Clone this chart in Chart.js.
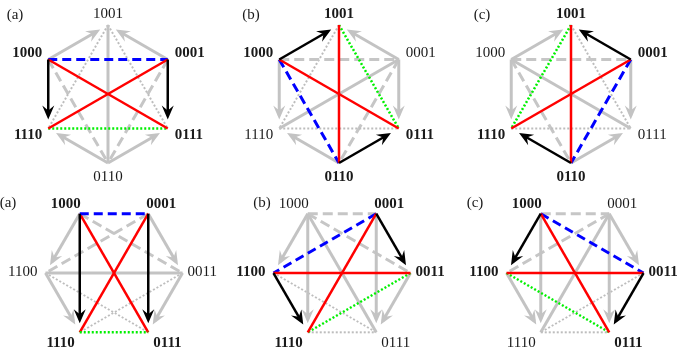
<!DOCTYPE html>
<html>
<head>
<meta charset="utf-8">
<script src="https://cdn.jsdelivr.net/npm/chart.js@4.4.1/dist/chart.umd.min.js"></script>
<style>
  html, body { margin: 0; padding: 0; background: #fff; }
  canvas { display: block; }
</style>
</head>
<body>
<canvas id="graphs" width="677" height="348"></canvas>
<script>
// vertex names, clockwise (top row starts at the top vertex, bottom row at the upper-right one)
const topNodes = ['1001', '0001', '0111', '0110', '1110', '1000'];
const bottomNodes = ['0001', '0011', '0111', '1110', '1100', '1000'];
const panelTags = ['(a)', '(b)', '(c)'];

// edges: [from, to, kind]
const topA = [
  ['1000', '1001', 'arrow'], ['0001', '1001', 'arrow'], ['1000', '1110', 'black'], ['0001', '0111', 'black'],
  ['0110', '1110', 'arrow'], ['0110', '0111', 'arrow'], ['1001', '0110', 'solid'], ['1000', '0111', 'red'],
  ['0001', '1110', 'red'], ['1000', '0001', 'blue'], ['1110', '0111', 'green'], ['1001', '1110', 'dot'],
  ['1001', '0111', 'dot'], ['1000', '0110', 'dash'], ['0001', '0110', 'dash']
];
const topB = [
  ['1000', '1001', 'black'], ['0001', '1001', 'arrow'], ['1000', '1110', 'arrow'], ['0001', '0111', 'arrow'],
  ['0110', '1110', 'arrow'], ['0110', '0111', 'black'], ['1001', '0110', 'red'], ['1000', '0111', 'red'],
  ['0001', '1110', 'solid'], ['1000', '0001', 'dash'], ['1110', '0111', 'dot'], ['1001', '1110', 'dot'],
  ['1001', '0111', 'green'], ['1000', '0110', 'blue'], ['0001', '0110', 'dash']
];
const topC = [
  ['1000', '1001', 'arrow'], ['0001', '1001', 'black'], ['1000', '1110', 'arrow'], ['0001', '0111', 'arrow'],
  ['0110', '1110', 'black'], ['0110', '0111', 'arrow'], ['1001', '0110', 'red'], ['0001', '1110', 'red'],
  ['1000', '0111', 'solid'], ['1000', '0001', 'dash'], ['1110', '0111', 'dot'], ['1001', '1110', 'green'],
  ['1001', '0111', 'dot'], ['1000', '0110', 'dash'], ['0001', '0110', 'blue']
];
const bottomA = [
  ['1000', '0001', 'blue'], ['1000', '1100', 'arrow'], ['0001', '0011', 'arrow'], ['1100', '1110', 'arrow'],
  ['0011', '0111', 'arrow'], ['1110', '0111', 'green'], ['1000', '1110', 'black'], ['0001', '0111', 'black'],
  ['1000', '0111', 'red'], ['0001', '1110', 'red'], ['1100', '0011', 'solid'], ['1000', '0011', 'dash'],
  ['0001', '1100', 'dash'], ['1100', '0111', 'dot'], ['0011', '1110', 'dot']
];
const bottomB = [
  ['1000', '0001', 'dash'], ['1000', '1100', 'arrow'], ['0001', '0011', 'black'], ['1100', '1110', 'black'],
  ['0011', '0111', 'arrow'], ['1110', '0111', 'dot'], ['1000', '1110', 'arrow'], ['0001', '0111', 'arrow'],
  ['1000', '0111', 'solid'], ['0001', '1110', 'red'], ['1100', '0011', 'red'], ['1000', '0011', 'dash'],
  ['0001', '1100', 'blue'], ['1100', '0111', 'dot'], ['0011', '1110', 'green']
];
const bottomC = [
  ['1000', '0001', 'dash'], ['1000', '1100', 'black'], ['0001', '0011', 'arrow'], ['1100', '1110', 'arrow'],
  ['0011', '0111', 'black'], ['1110', '0111', 'dot'], ['1000', '1110', 'arrow'], ['0001', '0111', 'arrow'],
  ['1000', '0111', 'red'], ['0001', '1110', 'solid'], ['1100', '0011', 'red'], ['1000', '0011', 'blue'],
  ['0001', '1100', 'dash'], ['1100', '0111', 'green'], ['0011', '1110', 'dot']
];

// vertices printed in bold, per panel
const topBold = [['1000', '0001', '1110', '0111'], ['1001', '1000', '0111', '0110'], ['1001', '0001', '1110', '0110']];
const bottomBold = [['1000', '0001', '1110', '0111'], ['0001', '1100', '0011', '1110'], ['1000', '1100', '0011', '0111']];

// ---- layout (positions in canvas-sized units) ----
const rows = [
  {
    nodes: topNodes, edges: [topA, topB, topC], bold: topBold,
    startAngle: -90, r: 69, cy: 94, cx: [108, 339, 571],
    labelOff: [[0, -11, 'center'], [7, -6, 'left'], [7, 7, 'left'], [0, 14, 'center'], [-6, 7, 'right'], [-6, -6, 'right']],
    tagPos: [[15, 15], [251, 15], [482, 15]]
  },
  {
    nodes: bottomNodes, edges: [bottomA, bottomB, bottomC], bold: bottomBold,
    startAngle: -60, r: 68.5, cy: 273, cx: [114, 342, 575],
    labelOff: [[13, -10, 'center'], [5, -1, 'left'], [5, 11, 'left'], [-5, 11, 'right'], [-8, -1, 'right'], [-14, -10, 'center']],
    tagPos: [[8, 203], [262, 203], [475, 203]]
  }
];

const kinds = {
  solid: { color: '#c3c3c3', width: 3, dash: [], order: 3 },
  dash:  { color: '#c6c6c6', width: 3, dash: [10, 5], order: 3 },
  dot:   { color: '#bdbdbd', width: 2, dash: [2, 2], order: 3 },
  arrow: { color: '#c3c3c3', width: 3, dash: [], order: 2, head: true },
  red:   { color: '#ff0000', width: 2.5, dash: [], order: 1 },
  blue:  { color: '#0000ff', width: 3, dash: [9, 5], order: 1 },
  green: { color: '#00f000', width: 2.5, dash: [2, 2], order: 1 },
  black: { color: '#000000', width: 2.5, dash: [], order: 0, head: true }
};

function vertexPos(row, p, name) {
  const k = row.nodes.indexOf(name);
  const a = (row.startAngle + 60 * k) * Math.PI / 180;
  return { x: row.cx[p] + row.r * Math.cos(a), y: row.cy + row.r * Math.sin(a) };
}

const datasets = [];
const labels = [];
rows.forEach(row => {
  row.cx.forEach((_, p) => {
    row.edges[p].forEach(([from, to, kind]) => {
      const st = kinds[kind];
      const a = vertexPos(row, p, from);
      let b = vertexPos(row, p, to);
      if (st.head) {
        // stop short of the target so the head sits just off the vertex
        const len = Math.hypot(b.x - a.x, b.y - a.y);
        const t = (len - 13) / len;
        b = { x: a.x + (b.x - a.x) * t, y: a.y + (b.y - a.y) * t };
      }
      datasets.push({
        data: [a, b],
        showLine: true,
        borderColor: st.color,
        borderWidth: st.width,
        borderDash: st.dash,
        borderCapStyle: 'butt',
        pointRadius: 0,
        order: st.order,
        head: !!st.head
      });
    });
    row.nodes.forEach((name, k) => {
      const v = vertexPos(row, p, name);
      const off = row.labelOff[k];
      labels.push({ text: name, x: v.x + off[0], y: v.y + off[1], align: off[2], bold: row.bold[p].includes(name) });
    });
    labels.push({ text: panelTags[p], x: row.tagPos[p][0], y: row.tagPos[p][1], align: 'center', bold: false });
  });
});

const arrowHeads = {
  id: 'arrowHeads',
  afterDatasetsDraw(chart) {
    const ctx = chart.ctx;
    chart.data.datasets.forEach((ds, i) => {
      if (!ds.head) return;
      const pts = chart.getDatasetMeta(i).data;
      const a = pts[0], b = pts[1];
      const len = Math.hypot(b.x - a.x, b.y - a.y);
      const ux = (b.x - a.x) / len, uy = (b.y - a.y) / len;
      const tx = b.x + ux * 4, ty = b.y + uy * 4;
      const L = 14, W = 6, N = 9;
      ctx.save();
      ctx.fillStyle = ds.borderColor;
      ctx.beginPath();
      ctx.moveTo(tx, ty);
      ctx.lineTo(tx - ux * L - uy * W, ty - uy * L + ux * W);
      ctx.lineTo(tx - ux * N, ty - uy * N);
      ctx.lineTo(tx - ux * L + uy * W, ty - uy * L - ux * W);
      ctx.closePath();
      ctx.fill();
      ctx.restore();
    });
  }
};

const vertexLabels = {
  id: 'vertexLabels',
  afterDraw(chart) {
    const { ctx, scales } = chart;
    ctx.save();
    ctx.fillStyle = '#1a1a1a';
    ctx.textBaseline = 'middle';
    labels.forEach(l => {
      ctx.font = (l.bold ? 'bold ' : '') + '15px "Liberation Serif", "Times New Roman", serif';
      ctx.textAlign = l.align;
      ctx.fillText(l.text, scales.x.getPixelForValue(l.x), scales.y.getPixelForValue(l.y));
    });
    ctx.restore();
  }
};

new Chart(document.getElementById('graphs'), {
  type: 'scatter',
  data: { datasets },
  options: {
    responsive: false,
    animation: false,
    events: [],
    layout: { padding: 0 },
    plugins: { legend: { display: false }, tooltip: { enabled: false } },
    scales: {
      x: { type: 'linear', min: 0, max: 677, display: false },
      y: { type: 'linear', min: 0, max: 348, reverse: true, display: false }
    }
  },
  plugins: [arrowHeads, vertexLabels]
});
</script>
</body>
</html>
